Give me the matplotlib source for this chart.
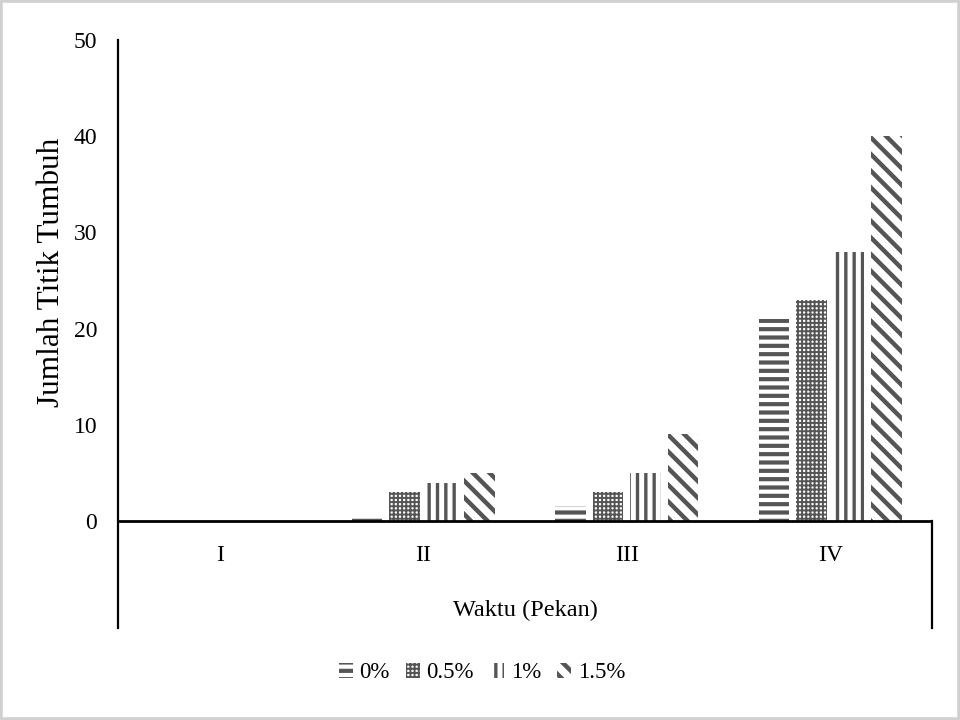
import numpy as np
import matplotlib
matplotlib.use('Agg')
from matplotlib import pyplot as plt
from matplotlib.patches import Rectangle

# data
weeks = ['I', 'II', 'III', 'IV']
series = ['0%', '0.5%', '1%', '1.5%']
v_0 = [0, 0.6, 1.6, 21]
v_05 = [0, 3, 3, 23]
v_1 = [0, 4, 5, 28]
v_15 = [0, 5, 9, 40]
values = [v_0, v_05, v_1, v_15]

hatches = ['--', '++++', '||', '\\\\']
hatch_lw = [3.0, 1.4, 2.4, 3.2]
grey = '#555555'

plt.rcParams['font.family'] = ['Liberation Serif', 'DejaVu Serif']

fig = plt.figure(figsize=(9.6, 7.2), dpi=100)
ax = fig.add_axes([118 / 960, 1 - 628 / 720, (932 - 118) / 960, (628 - 40) / 720])

x = np.arange(len(weeks))
width = 0.15
step = 0.185
for i, (name, vals) in enumerate(zip(series, values)):
    with plt.rc_context({'hatch.linewidth': hatch_lw[i], 'hatch.color': grey}):
        bars = ax.bar(x + (i - 1.5) * step, vals, width, facecolor='white',
                      edgecolor=grey, linewidth=0, hatch=hatches[i], label=name)
        for b in bars:
            if hasattr(b, 'set_hatch_linewidth'):
                b.set_hatch_linewidth(hatch_lw[i])

ymin = -(628 - 521) / ((521 - 40) / 50)
ax.set_ylim(ymin, 50)
ax.set_xlim(-0.5, 3.5)
ax.set_yticks([0, 10, 20, 30, 40, 50])
ax.tick_params(axis='y', length=0, labelsize=17, pad=15)
ax.set_xticks([])

for s in ['top', 'bottom', 'right']:
    ax.spines[s].set_visible(False)
ax.spines['left'].set_linewidth(1.6)

ax.axhline(0, color='black', linewidth=2.0)
ax.plot([3.5, 3.5], [ymin, 0], color='black', linewidth=1.6, clip_on=False)

for xi, w in zip(x, weeks):
    ax.text(xi, -3.6, w, ha='center', va='center', fontsize=17)

ax.text(1.5, -9.3, 'Waktu (Pekan)', ha='center', va='center', fontsize=17.5)
ax.text(-0.0823, 0.605, 'Jumlah Titik Tumbuh', rotation=90, ha='center', va='center',
        fontsize=22.5, transform=ax.transAxes)

leg = fig.legend(loc='center', bbox_to_anchor=(482 / 960, 1 - 673 / 720), ncol=4,
                 frameon=False, fontsize=16.5, handlelength=0.6, handleheight=0.6,
                 handletextpad=0.3, columnspacing=0.7)
for p, lw in zip(leg.get_patches(), hatch_lw):
    if hasattr(p, 'set_hatch_linewidth'):
        p.set_hatch_linewidth(lw)

fig.patches.append(Rectangle((0, 0), 1, 1, transform=fig.transFigure, fill=False,
                             edgecolor='#d0d0d0', linewidth=4))

plt.savefig('out.png', dpi=100)
